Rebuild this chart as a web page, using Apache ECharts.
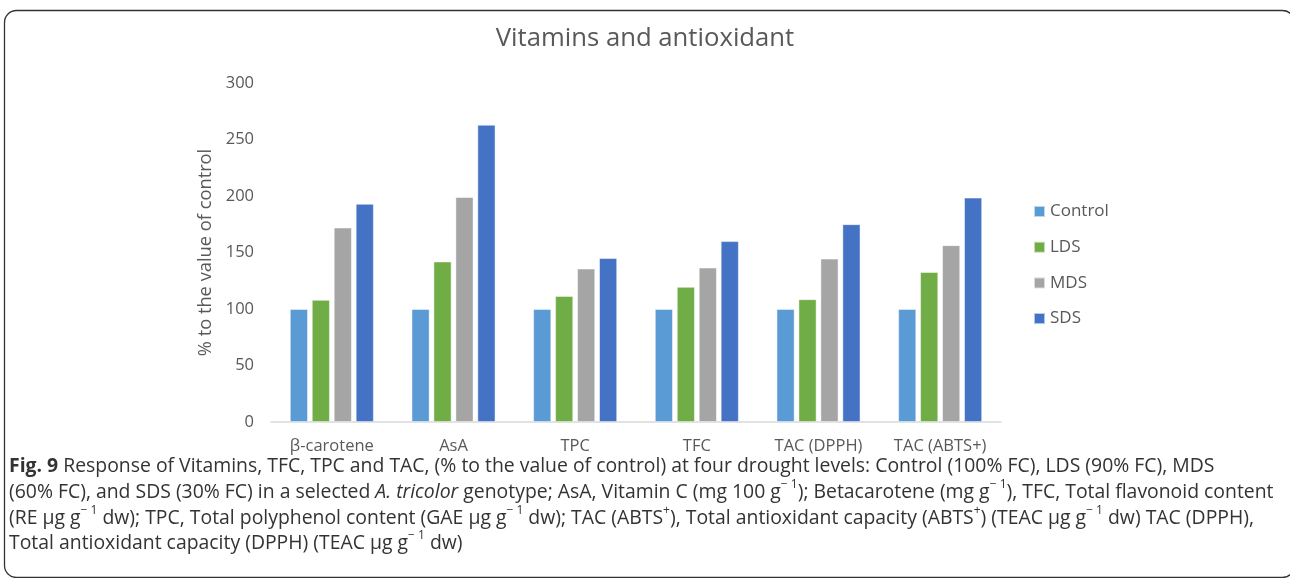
<!DOCTYPE html>
<html><head><meta charset="utf-8">
<script src="https://cdn.jsdelivr.net/npm/echarts@6/dist/echarts.min.js"></script>
<style>html,body{margin:0;padding:0;background:#fff}#c{width:1290px;height:578px}</style>
</head><body><div id="c"></div>
<script>
const categories = ['β-carotene', 'AsA', 'TPC', 'TFC', 'TAC (DPPH)', 'TAC (ABTS+)'];
const seriesNames = ['Control', 'LDS', 'MDS', 'SDS'];
const controlVals = [100, 100, 100, 100, 100, 100];
const ldsVals = [108, 142, 111.5, 119.5, 108.6, 132.7];
const mdsVals = [172, 199, 135.7, 136.6, 144.5, 156.4];
const sdsVals = [193, 263, 145, 160, 175, 198.5];
const yTicks = [0, 50, 100, 150, 200, 250, 300];
const colors = ['#5B9BD5', '#70AD47', '#A5A5A5', '#4472C4'];

const chart = echarts.init(document.getElementById('c'));
const F = '"Open Sans", "Noto Sans", sans-serif';
const txt = '#595959';
const CS = 19.4;
const capStyle = {
  n: {fontSize: CS, fontFamily: F, fill: '#333', lineHeight: 26},
  b: {fontSize: CS, fontFamily: F, fontWeight: 'bold', fill: '#333', lineHeight: 26},
  i: {fontSize: CS, fontFamily: F, fontStyle: 'italic', fill: '#333', lineHeight: 26},
  s: {fontSize: 12, fontFamily: F, fill: '#333', verticalAlign: 'top', lineHeight: 12}
};
function capLine(text, y) {
  return {type: 'text', left: 9, top: y, z: 10,
    style: {text: text, rich: capStyle, fontSize: CS, fontFamily: F, fill: '#333', lineHeight: 26}};
}
const allSeries = [controlVals, ldsVals, mdsVals, sdsVals].map((d, i) => ({
  name: seriesNames[i], type: 'bar', data: d, barWidth: 18,
  barGap: '22%', barCategoryGap: '31%',
  itemStyle: {color: colors[i], borderColor: 'rgba(255,255,255,0.6)', borderWidth: 0.8}
}));
chart.setOption({
  animation: false,
  title: {text: 'Vitamins and antioxidant', left: 'center', top: 21,
    textStyle: {fontSize: 25.7, fontWeight: 'normal', color: txt, fontFamily: F}},
  grid: {left: 271, right: 289, top: 83, bottom: 156},
  legend: {orient: 'vertical', left: 1028, top: 198, itemWidth: 11, itemHeight: 11,
    itemGap: 18.7, icon: 'rect', data: seriesNames,
    textStyle: {fontSize: 17, lineHeight: 17, color: txt, fontFamily: F}},
  xAxis: {type: 'category', data: categories,
    axisLine: {lineStyle: {color: '#d9d9d9', width: 1.5}}, axisTick: {show: false},
    axisLabel: {fontSize: 16.5, color: txt, fontFamily: F, margin: 16}},
  yAxis: {type: 'value', min: yTicks[0], max: yTicks[yTicks.length - 1], interval: 50,
    name: '% to the value of control', nameLocation: 'middle', nameGap: 54,
    nameTextStyle: {fontSize: 18.3, color: txt, fontFamily: F},
    axisLine: {show: false}, axisTick: {show: false}, splitLine: {show: false},
    axisLabel: {fontSize: 16.5, color: txt, fontFamily: F, margin: 17}},
  series: allSeries,
  graphic: [
    {type: 'rect', shape: {x: 4.5, y: 10.5, width: 1290, height: 567, r: 12}, z: -1,
      style: {fill: 'none', stroke: '#333', lineWidth: 1.3}},
    capLine('{b|Fig. 9} Response of Vitamins, TFC, TPC and TAC, (% to the value of control) at four drought levels: Control (100% FC), LDS (90% FC), MDS', 453),
    capLine('(60% FC), and SDS (30% FC) in a selected {i|A. tricolor} genotype; AsA, Vitamin C (mg 100 g{s|− 1}); Betacarotene (mg g{s|− 1}), TFC, Total flavonoid content', 479),
    capLine('(RE µg g{s|− 1} dw); TPC, Total polyphenol content (GAE µg g{s|− 1} dw); TAC (ABTS{s|+}), Total antioxidant capacity (ABTS{s|+}) (TEAC µg g{s|− 1} dw) TAC (DPPH),', 505),
    capLine('Total antioxidant capacity (DPPH) (TEAC µg g{s|− 1} dw)', 530)
  ]
});
</script></body></html>
